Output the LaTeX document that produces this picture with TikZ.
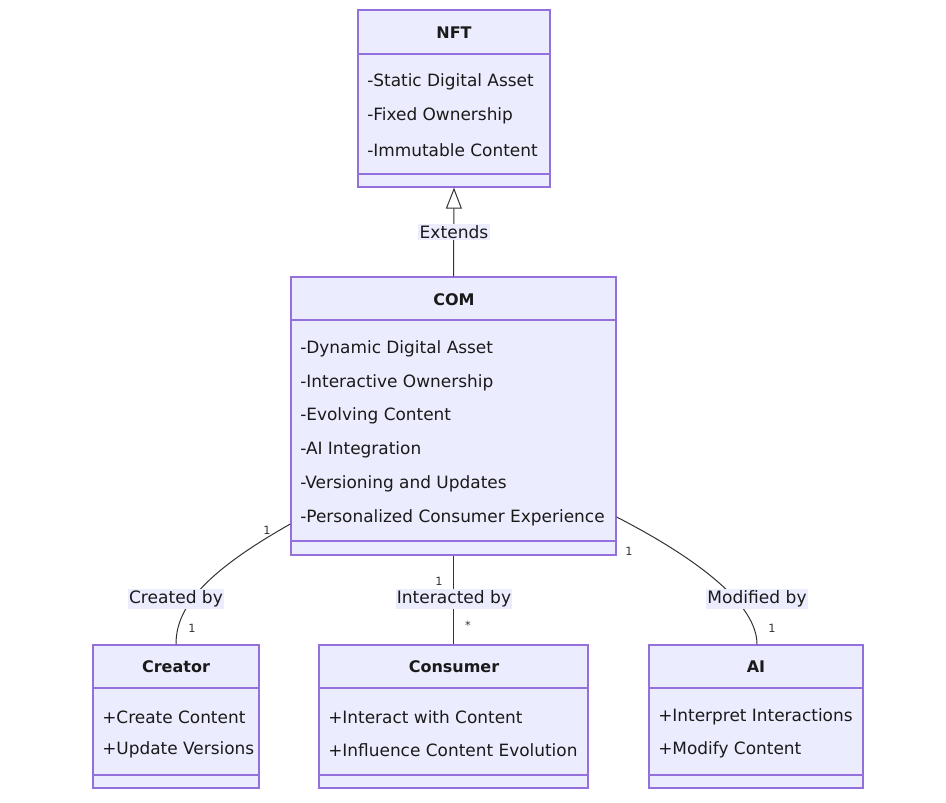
\documentclass[tikz,border=0pt]{standalone}
\usepackage{fontspec}
\setmainfont{DejaVu Sans}
\usetikzlibrary{arrows.meta,fit}
\definecolor{boxfill}{HTML}{ECECFF}
\definecolor{boxline}{HTML}{9370DB}
\definecolor{inktext}{HTML}{1A1A1A}
\definecolor{edgeline}{HTML}{333333}
\tikzset{
  classbox/.style={draw=boxline, fill=boxfill, line width=1pt, inner sep=0pt},
  divider/.style={draw=boxline, line width=1pt},
  classtitle/.style={font=\fontsize{12}{14}\selectfont\bfseries, text=inktext, inner sep=0pt},
  member/.style={font=\fontsize{12.7}{15}\selectfont, text=inktext, inner sep=0pt, anchor=west},
  edge/.style={draw=edgeline, line width=0.75pt},
  edgelabel/.style={font=\fontsize{12.8}{15}\selectfont, text=inktext, fill=boxfill, inner xsep=1pt, inner ysep=1pt},
  multiplicity/.style={font=\fontsize{8.5}{10}\selectfont, text=edgeline, inner sep=0pt}
}
\begin{document}
\begin{tikzpicture}[x=0.75pt, y=-0.75pt]
    \useasboundingbox (0,0) rectangle (946,803);
    % class boxes
    \node[classbox, fit={(358,10) (550,187)}] (nft) {};
    \node[classbox, fit={(291,277) (616,555)}] (com) {};
    \node[classbox, fit={(93,645) (259,788)}] (creator) {};
    \node[classbox, fit={(319,645) (588,788)}] (consumer) {};
    \node[classbox, fit={(649,645) (863,788)}] (ai) {};
    \draw[divider] (nft.west |- 0,54) -- (nft.east |- 0,54);
    \draw[divider] (nft.west |- 0,174) -- (nft.east |- 0,174);
    \draw[divider] (com.west |- 0,320) -- (com.east |- 0,320);
    \draw[divider] (com.west |- 0,541) -- (com.east |- 0,541);
    \foreach \cls in {creator, consumer, ai} {
      \draw[divider] (\cls.west |- 0,688) -- (\cls.east |- 0,688);
      \draw[divider] (\cls.west |- 0,775) -- (\cls.east |- 0,775);
    }
    % titles and members
    \node[classtitle] (nfttitle) at (454,33) {NFT};
    \node[member] (nftm1) at (367,82) {-Static Digital Asset};
    \node[member] (nftm2) at (367,116) {-Fixed Ownership};
    \node[member] (nftm3) at (367,150) {-Immutable Content};
    \node[classtitle] (comtitle) at (454,300) {COM};
    \node[member] (comm1) at (300,349) {-Dynamic Digital Asset};
    \node[member] (comm2) at (300,383) {-Interactive Ownership};
    \node[member] (comm3) at (300,416) {-Evolving Content};
    \node[member] (comm4) at (300,450) {-AI Integration};
    \node[member] (comm5) at (300,484) {-Versioning and Updates};
    \node[member] (comm6) at (300,518) {-Personalized Consumer Experience};
    \node[classtitle] (creatortitle) at (176,667) {Creator};
    \node[member] (creatorm1) at (102,717) {+Create Content};
    \node[member] (creatorm2) at (102,750) {+Update Versions};
    \node[classtitle] (consumertitle) at (454,667) {Consumer};
    \node[member] (consumerm1) at (328,717) {+Interact with Content};
    \node[member] (consumerm2) at (328,750) {+Influence Content Evolution};
    \node[classtitle] (aititle) at (756,667) {AI};
    \node[member] (aim1) at (658,717) {+Interpret Interactions};
    \node[member] (aim2) at (658,750) {+Modify Content};
    % relations
    \coordinate (comleft) at (com.west |- 0,524);
    \coordinate (comright) at (com.east |- 0,517);
    \draw[edge, -{Triangle[open, length=15.75pt, width=12pt, line width=0.75pt]}]
      (com.north) -- (nft.south);
    \draw[edge] (comleft) .. controls (200,575) and (176,610) .. (creator.north);
    \draw[edge] (com.south) -- (consumer.north);
    \draw[edge] (comright) .. controls (700,560) and (757,605) .. (ai.north -| 757,0);
    \node[edgelabel] (extends) at (454,232) {Extends};
    \node[edgelabel] (createdby) at (176,599) {Created by};
    \node[edgelabel] (interactedby) at (454,599) {Interacted by};
    \node[edgelabel] (modifiedby) at (757,599) {Modified by};
    \node[multiplicity] (card1) at (267,530) {1};
    \node[multiplicity] (card2) at (192,628) {1};
    \node[multiplicity] (card3) at (439,581) {1};
    \node[multiplicity] (card4) at (468,625) {*};
    \node[multiplicity] (card5) at (629,551) {1};
    \node[multiplicity] (card6) at (772,628) {1};
  \end{tikzpicture}
\end{document}
